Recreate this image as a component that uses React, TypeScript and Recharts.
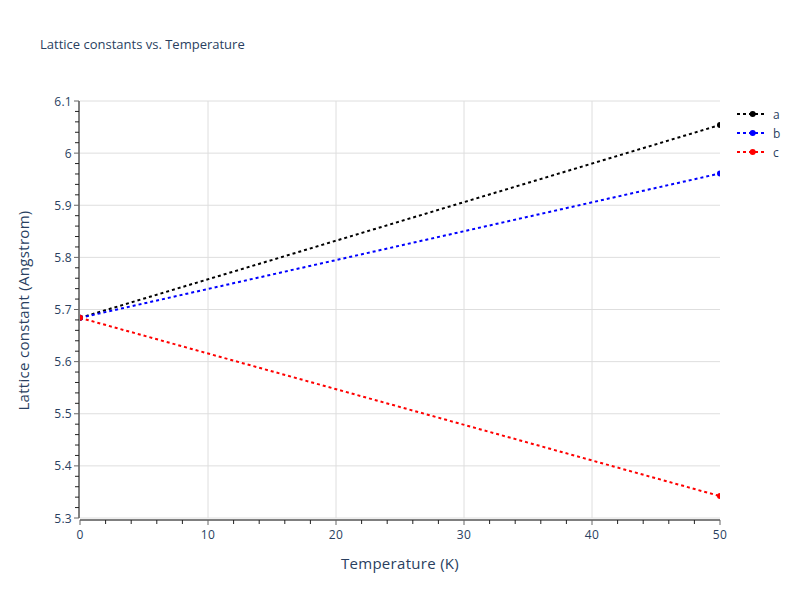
import React from 'react';
import { LineChart, Line, XAxis, YAxis, CartesianGrid, Legend } from 'recharts';

const temperatures = [0, 50];
const seriesA = [5.684, 6.054];
const seriesB = [5.684, 5.961];
const seriesC = [5.684, 5.342];

const seriesNames = ['a', 'b', 'c'];
const seriesColors = ['#000000', '#0000ff', '#ff0000'];

const xMajorTicks = [0, 10, 20, 30, 40, 50];
const xMajorLabels = ['0', '10', '20', '30', '40', '50'];
const xMinorStep = 2;
const yMajorTicks = [5.3, 5.4, 5.5, 5.6, 5.7, 5.8, 5.9, 6.0, 6.1];
const yMajorLabels = ['5.3', '5.4', '5.5', '5.6', '5.7', '5.8', '5.9', '6', '6.1'];
const yMinorStep = 0.02;

const xAllTicks = Array.from({ length: Math.round(50 / xMinorStep) + 1 }, (_, i) => i * xMinorStep);
const yAllTicks = Array.from({ length: Math.round(0.8 / yMinorStep) + 1 }, (_, i) =>
  Math.round((5.3 + i * yMinorStep) * 100) / 100
);

const data = temperatures.map((t, i) => ({ t, a: seriesA[i], b: seriesB[i], c: seriesC[i] }));

const FONT = '"Open Sans", verdana, arial, sans-serif';
const TEXT = '#2a3f5f';

const majorIndex = (arr: number[], v: number) => arr.findIndex((m) => Math.abs(m - v) < 1e-6);

const XTick = (props: any) => {
  const { x, y, payload } = props;
  const idx = majorIndex(xMajorTicks, payload.value);
  const ax = y + 2;
  if (idx < 0) {
    return <line x1={x} x2={x} y1={ax} y2={ax + 4} stroke="#222" strokeWidth={1} />;
  }
  return (
    <g>
      <line x1={x} x2={x} y1={ax} y2={ax + 5} stroke="#666" strokeWidth={1} />
      <text x={x} y={ax + 19} textAnchor="middle" fontFamily={FONT} fontSize={12} fill={TEXT} letterSpacing={0.3}>
        {xMajorLabels[idx]}
      </text>
    </g>
  );
};

const YTick = (props: any) => {
  const { x, y, payload } = props;
  const idx = majorIndex(yMajorTicks, payload.value);
  const ax = x - 1;
  if (idx < 0) {
    return <line x1={ax - 4} x2={ax} y1={y} y2={y} stroke="#222" strokeWidth={1} />;
  }
  return (
    <g>
      <line x1={ax - 5} x2={ax} y1={y} y2={y} stroke="#666" strokeWidth={1} />
      <text x={72} y={y} textAnchor="end" dominantBaseline="central" fontFamily={FONT} fontSize={12} fill={TEXT} letterSpacing={0.3}>
        {yMajorLabels[idx]}
      </text>
    </g>
  );
};

const LegendContent = () => (
  <svg width={70} height={60} style={{ overflow: 'visible' }}>
    {seriesNames.map((n, i) => (
      <g key={n} transform={`translate(0, ${10 + i * 19})`}>
        <line x1={2} x2={30} y1={0} y2={0} stroke={seriesColors[i]} strokeWidth={2} strokeDasharray="3 3" />
        <circle cx={17.7} cy={0} r={3} fill={seriesColors[i]} />
        <text x={38} y={0} dominantBaseline="central" fontFamily={FONT} fontSize={12} fill={TEXT}>
          {n}
        </text>
      </g>
    ))}
  </svg>
);

export default function App() {
  return (
    <div style={{ position: 'absolute', left: 0, top: 0, width: 800, height: 600, background: '#fff' }}>
      <svg width={800} height={70} style={{ position: 'absolute', left: 0, top: 0 }}>
        <text x={40} y={49} fontFamily={FONT} fontSize={13} fill={TEXT}>
          Lattice constants vs. Temperature
        </text>
      </svg>
      <div style={{ position: 'absolute', left: 0, top: 0 }}>
        <LineChart width={800} height={600} data={data} margin={{ top: 101, right: 80, left: 0, bottom: 0 }}>
          <CartesianGrid
            stroke="#dedede"
            strokeWidth={1}
            horizontalValues={yMajorTicks}
            verticalValues={[10, 20, 30, 40]}
          />
          <XAxis
            dataKey="t"
            type="number"
            domain={[0, 50]}
            ticks={xAllTicks}
            interval={0}
            allowDataOverflow
            height={82}
            tickSize={0}
            tickMargin={0}
            tickLine={false}
            tick={<XTick />}
            axisLine={{ stroke: '#000', strokeWidth: 1, transform: 'translate(0,2)' }}
            label={{
              content: () => (
                <text x={400} y={563} textAnchor="middle" dominantBaseline="central" fontFamily={FONT} fontSize={15} letterSpacing={0.3} fill={TEXT}>
                  Temperature (K)
                </text>
              ),
            }}
          />
          <YAxis
            type="number"
            domain={[5.3, 6.1]}
            ticks={yAllTicks}
            interval={0}
            allowDataOverflow
            width={80}
            tickSize={0}
            tickMargin={0}
            tickLine={false}
            tick={<YTick />}
            axisLine={{ stroke: '#000', strokeWidth: 1, transform: 'translate(-1,0)' }}
            label={{
              content: () => (
                <text
                  x={23}
                  y={310.5}
                  textAnchor="middle"
                  dominantBaseline="central"
                  transform="rotate(-90 23 310.5)"
                  fontFamily={FONT}
                  fontSize={15}
                  letterSpacing={0.3}
                  fill={TEXT}
                >
                  Lattice constant (Angstrom)
                </text>
              ),
            }}
          />
          <Legend
            layout="vertical"
            align="center"
            verticalAlign="middle"
            content={<LegendContent />}
            wrapperStyle={{ position: 'absolute', left: 735, top: 104, width: 70, height: 60 }}
          />
          {seriesNames.map((n, i) => (
            <Line
              key={n}
              dataKey={n}
              name={n}
              type="linear"
              stroke={seriesColors[i]}
              strokeWidth={2}
              strokeDasharray="3 3"
              dot={{ r: 3, fill: seriesColors[i], stroke: 'none', strokeWidth: 0, strokeDasharray: '' }}
              activeDot={false}
              isAnimationActive={false}
            />
          ))}
        </LineChart>
      </div>
    </div>
  );
}
